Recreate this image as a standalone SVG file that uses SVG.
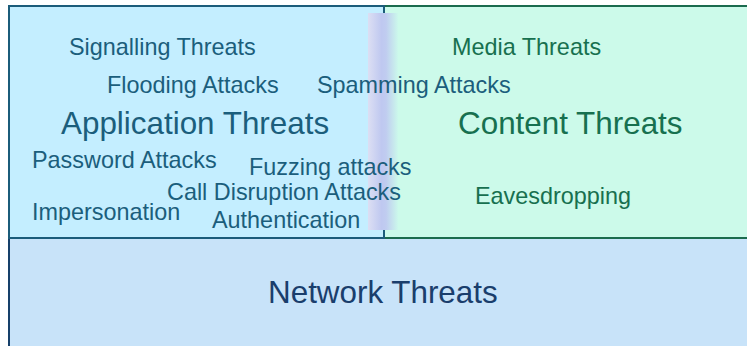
<svg xmlns="http://www.w3.org/2000/svg" width="747" height="346" viewBox="0 0 747 346">
<style>
text{font-family:"Liberation Sans",Arial,sans-serif}
.app{fill:#1B5E7C}
.con{fill:#17704F}
.s{font-size:23.4px}
.b{font-size:31.4px}
</style>
<defs>
<linearGradient id="band" x1="0" y1="0" x2="1" y2="0">
<stop offset="0" stop-color="#DCDFF3"/>
<stop offset="0.45" stop-color="#BFC8F0"/>
<stop offset="0.6" stop-color="#C0CCF0"/>
<stop offset="1" stop-color="#CBF8EB"/>
</linearGradient>
</defs>
<rect x="0" y="0" width="747" height="346" fill="#FFFFFF"/>
<g id="network">
<rect x="9" y="238" width="746" height="116" fill="#C8E3F9" stroke="#17406A" stroke-width="2"/>
<text x="268" y="303" class="b" fill="#1A3E6C">Network Threats</text>
</g>
<g id="content">
<rect x="384" y="6" width="372" height="232" fill="#CCFAEA" stroke="#1B6B4E" stroke-width="2"/>
</g>
<g id="application">
<rect x="9" y="6" width="375" height="232" fill="#C4EEFF" stroke="#1B5C7A" stroke-width="2"/>
</g>
<rect x="368" y="13" width="30" height="217" fill="url(#band)"/>
<g id="application-labels">
<text x="69" y="55" class="app s">Signalling Threats</text>
<text x="107" y="93" class="app s">Flooding Attacks</text>
<text x="317" y="93" class="app s">Spamming Attacks</text>
<text x="61" y="134" class="app b">Application Threats</text>
<text x="32" y="168" class="app s">Password Attacks</text>
<text x="249" y="175" class="app s">Fuzzing attacks</text>
<text x="167" y="200" class="app s">Call Disruption Attacks</text>
<text x="32" y="220" class="app s">Impersonation</text>
<text x="212" y="228" class="app s">Authentication</text>
</g>
<g id="content-labels">
<text x="452" y="55" class="con s">Media Threats</text>
<text x="458" y="134" class="con b">Content Threats</text>
<text x="475" y="204" class="con s">Eavesdropping</text>
</g>
</svg>
